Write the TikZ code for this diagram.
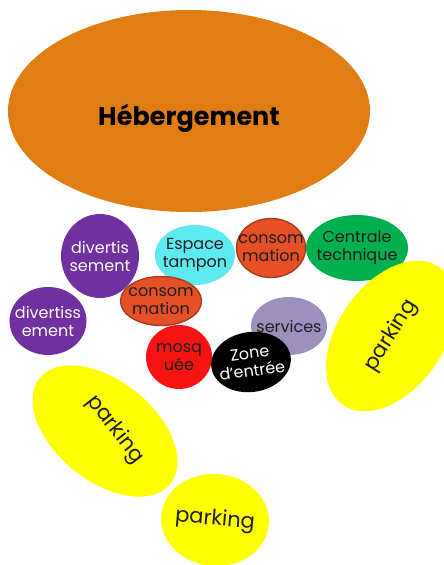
\documentclass[tikz,border=0pt]{standalone}
\usepackage{fontspec}
\setmainfont{Poppins}
\usetikzlibrary{shapes.geometric}
\definecolor{ink}{HTML}{1E1E1E}
\definecolor{heberg}{HTML}{E17E13}
\definecolor{violet}{HTML}{7030A0}
\definecolor{tampon}{HTML}{5DE9F0}
\definecolor{conso}{HTML}{E65026}
\definecolor{consoline}{HTML}{A63C1E}
\definecolor{centrale}{HTML}{00AF50}
\definecolor{lavande}{HTML}{9E90BE}
\definecolor{mosquee}{HTML}{F81313}
\definecolor{parking}{HTML}{FFFF00}
\tikzset{
  zone/.style={ellipse, inner sep=-40pt, outer sep=0pt, align=center, text=ink,
               font=\fontsize{16}{18}\selectfont},
  loisir/.style={zone, fill=violet, text=white},
  consobox/.style={zone, fill=conso, draw=consoline, line width=1.4pt},
  parkbox/.style={zone, fill=parking, font=\fontsize{21}{23}\selectfont}
}
\begin{document}
\begin{tikzpicture}[x=1pt, y=-1pt]
 \useasboundingbox (0,0) rectangle (444,565);
 \node[zone, fill=heberg, minimum width=362pt, minimum height=202pt, text height=28pt, text depth=0pt,
       font=\fontsize{25.5}{27}\selectfont\bfseries, text=black] (heb) at (189,111) {Hébergement};
 \node[loisir, minimum width=78pt, minimum height=84pt] (divA) at (100,256) {divertis\\sement};
 \node[loisir, minimum width=77pt, minimum height=68pt] (divB) at (48,321) {divertiss\\ement};
 \node[zone, fill=tampon, minimum width=80pt, minimum height=60pt] (tamp) at (195,255) {Espace\\tampon};
 \node[consobox, minimum width=69pt, minimum height=59pt] (consoA) at (271,248) {consom\\mation};
 \node[zone, fill=centrale, minimum width=102pt, minimum height=66pt] (cent) at (357,248) {Centrale\\technique};
 \node[consobox, minimum width=81pt, minimum height=49pt] (consoB) at (161,301) {consom\\mation};
 \node[zone, fill=lavande, minimum width=76pt, minimum height=58pt] (serv) at (289,326) {services};
 \node[zone, fill=mosquee, minimum width=66pt, minimum height=64pt] (mosq) at (179,357) {mosq\\uée};
 \node[zone, fill=black, text=white, minimum width=80pt, minimum height=60pt, rotate=8] (entree) at (251,362) {Zone\\d'entrée\hspace{6pt}};
 % parkings
 \node[parkbox, minimum width=168pt, minimum height=106pt, rotate=55] (parkA) at (391,336) {\rotatebox[origin=c]{3}{parking}};
 \node[parkbox, minimum width=168pt, minimum height=100pt, rotate=-39] (parkB) at (105,431)
   {\rotatebox[origin=c]{-13}{\hspace{10pt}parking\rule[-23pt]{0pt}{23pt}}};
 \node[parkbox, minimum width=108pt, minimum height=92pt, rotate=-5] (parkC) at (215,520) {parking};
\end{tikzpicture}
\end{document}
